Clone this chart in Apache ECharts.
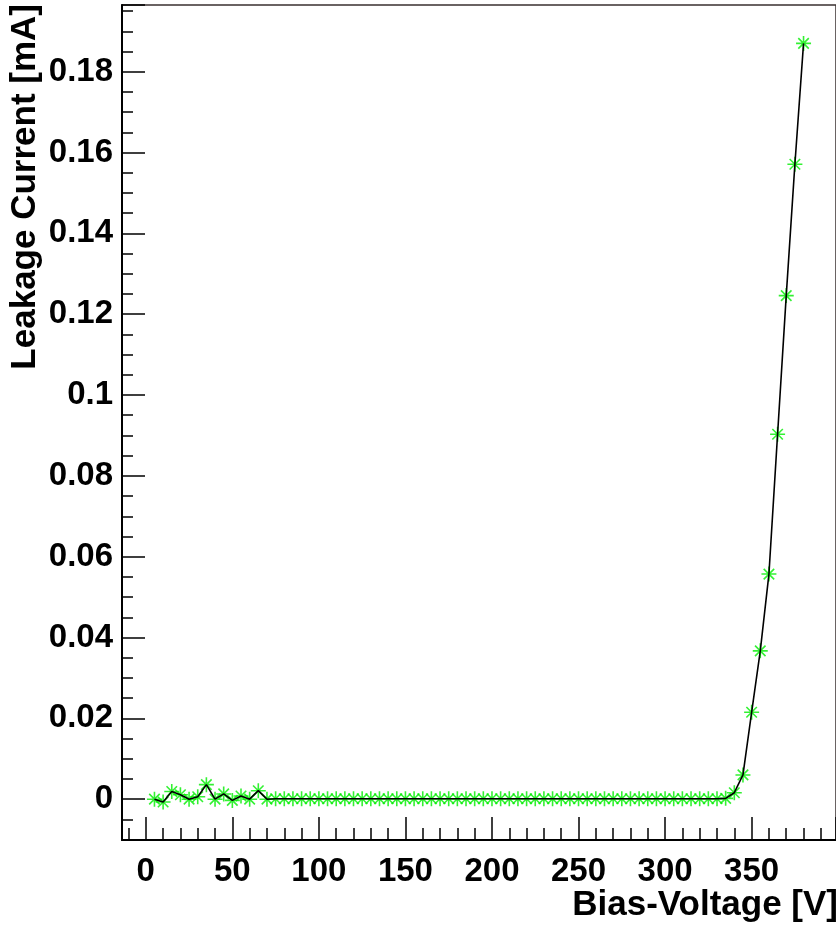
<!DOCTYPE html>
<html>
<head>
<meta charset="utf-8">
<title>Leakage Current</title>
<script src="https://cdn.jsdelivr.net/npm/echarts@6/dist/echarts.min.js"></script>
<style>
  html, body { margin: 0; padding: 0; background: #fff; }
  #chart { width: 836px; height: 937px; }
</style>
</head>
<body>
<div id="chart"></div>
<script>
// 偏压 (V)
var voltage = [
  5, 10, 15, 20, 25, 30, 35, 40, 45, 50, 55, 60, 65, 70, 75, 80, 85, 90, 95, 100,
  105, 110, 115, 120, 125, 130, 135, 140, 145, 150, 155, 160, 165, 170, 175, 180, 185, 190, 195, 200,
  205, 210, 215, 220, 225, 230, 235, 240, 245, 250, 255, 260, 265, 270, 275, 280, 285, 290, 295, 300,
  305, 310, 315, 320, 325, 330, 335, 340, 345, 350, 355, 360, 365, 370, 375, 380
];
// 漏电流 (mA)
var current = [
  0.0000, -0.0007, 0.0019, 0.0011, 0.0000, 0.0006, 0.0036, 0.0000, 0.0013, -0.0003,
  0.0008, 0.0000, 0.0021, 0.0000, 0.0001, 0.0001, 0.0001, 0.0001, 0.0001, 0.0001,
  0.0001, 0.0001, 0.0001, 0.0001, 0.0001, 0.0001, 0.0001, 0.0001, 0.0001, 0.0001,
  0.0001, 0.0001, 0.0001, 0.0001, 0.0001, 0.0001, 0.0001, 0.0001, 0.0001, 0.0001,
  0.0001, 0.0001, 0.0001, 0.0001, 0.0001, 0.0001, 0.0001, 0.0001, 0.0001, 0.0001,
  0.0001, 0.0001, 0.0001, 0.0001, 0.0001, 0.0001, 0.0001, 0.0001, 0.0001, 0.0001,
  0.0001, 0.0001, 0.0001, 0.0001, 0.0001, 0.0001, 0.0002, 0.0016, 0.0060, 0.0215,
  0.0367, 0.0557, 0.0903, 0.1246, 0.1571, 0.1870
];
// 坐标轴范围
var xRange = [-13.75, 398.75];
var yRange = [-0.0101, 0.1965];

var points = voltage.map(function (v, i) { return [v, current[i]]; });

var myChart = echarts.init(document.getElementById('chart'));

var font = '"Liberation Sans", Arial, Helvetica, sans-serif';
// 星号标记
var star = 'path://M0,5L10,5M5,0L5,10M1.5,1.5L8.5,8.5M8.5,1.5L1.5,8.5';

myChart.setOption({
  animation: false,
  backgroundColor: '#fff',
  grid: {
    left: 122,
    top: 5,
    width: 715,
    height: 835,
    show: true,
    borderColor: '#3a3030',
    borderWidth: 1.5
  },
  xAxis: {
    type: 'value',
    min: xRange[0],
    max: xRange[1],
    minInterval: 50,
    maxInterval: 50,
    splitLine: { show: false },
    axisLine: { onZero: false, lineStyle: { color: '#000', width: 2 } },
    axisTick: { inside: true, length: 23, lineStyle: { color: '#000', width: 1.5 } },
    minorTick: { show: true, splitNumber: 5, length: 12, lineStyle: { color: '#000', width: 1.5 } },
    axisLabel: {
      margin: 15,
      showMinLabel: false,
      showMaxLabel: false,
      color: '#000',
      fontFamily: font,
      fontWeight: 'bold',
      fontSize: 33
    }
  },
  yAxis: {
    type: 'value',
    min: yRange[0],
    max: yRange[1],
    minInterval: 0.02,
    maxInterval: 0.02,
    splitLine: { show: false },
    axisLine: { onZero: false, lineStyle: { color: '#000', width: 2 } },
    axisTick: { inside: true, length: 23, lineStyle: { color: '#000', width: 1.5 } },
    minorTick: { show: true, splitNumber: 4, length: 11, lineStyle: { color: '#000', width: 1.5 } },
    axisLabel: {
      margin: 9,
      showMinLabel: false,
      showMaxLabel: false,
      color: '#000',
      fontFamily: font,
      fontWeight: 'bold',
      fontSize: 33
    }
  },
  graphic: [
    {
      type: 'text',
      x: 838,
      y: 905,
      style: {
        text: 'Bias-Voltage [V]',
        align: 'right',
        verticalAlign: 'middle',
        fill: '#000',
        font: 'bold 35px ' + font
      }
    },
    {
      type: 'text',
      x: 25,
      y: 4,
      rotation: Math.PI / 2,
      style: {
        text: 'Leakage Current [mA]',
        align: 'right',
        verticalAlign: 'middle',
        fill: '#000',
        font: 'bold 35px ' + font
      }
    }
  ],
  series: [
    {
      type: 'scatter',
      data: points,
      symbol: star,
      symbolSize: 15,
      z: 2,
      itemStyle: { color: '#00ff00', borderColor: '#00ee00', borderWidth: 1.6 }
    },
    {
      type: 'line',
      data: points,
      symbol: 'none',
      z: 3,
      lineStyle: { color: '#000', width: 1.6 }
    }
  ]
});
</script>
</body>
</html>
